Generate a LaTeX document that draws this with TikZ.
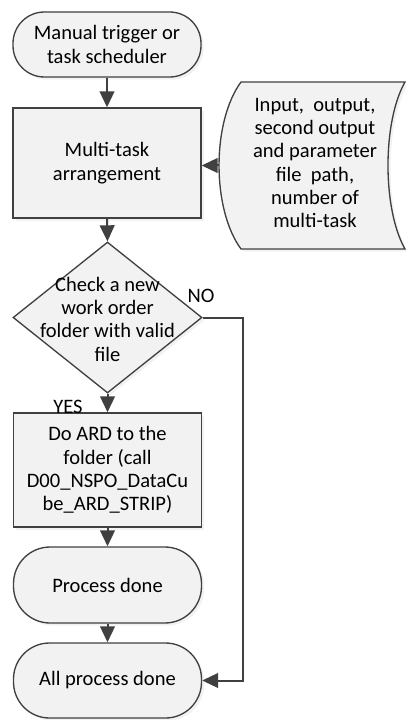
\documentclass[tikz,border=0pt]{standalone}
\usepackage{fontspec}
\setmainfont{Carlito}
\usetikzlibrary{arrows.meta,shapes.geometric,shadows}
\definecolor{boxfill}{HTML}{F2F2F2}
\definecolor{edge}{HTML}{404040}
\begin{document}
\begin{tikzpicture}[x=0.75pt,y=-0.75pt,
  txt/.style={font=\fontsize{15.4}{17.5}\selectfont, text=black, align=center},
  shp/.style={draw=edge, line width=1pt, fill=boxfill,
    drop shadow={shadow xshift=2pt,shadow yshift=-2pt,opacity=0.1}},
  term/.style={shp, txt, rectangle, minimum width=141pt, inner sep=0pt},
  proc/.style={shp, txt, rectangle, minimum width=141pt, inner sep=0pt},
  conn/.style={draw=edge, line width=1.5pt, -{Triangle[length=12pt,width=11pt]}},
  lbl/.style={txt}
]
\useasboundingbox (0,0) rectangle (406,720);

% nodes
\node[term, minimum height=48.75pt, rounded corners=23.5pt] (start) at (107,44.5)
  {Manual trigger or\\task scheduler};
\node[proc, minimum height=82.5pt] (multi) at (107,163) {Multi-task\\arrangement};
\node[shp, diamond, minimum width=141.75pt, minimum height=113.25pt, inner sep=0pt] (check) at (107.5,317.5) {};
\node[txt] (checktxt) at (107.5,319) {Check a new\\work order\\folder with valid\\file};
\node[proc, minimum height=85.5pt] (ard) at (107.5,470)
  {Do ARD to the\\folder (call\\D00\_NSPO\_DataCu\\be\_ARD\_STRIP)};
\node[term, minimum height=57pt, rounded corners=27.5pt] (pdone) at (107.5,585) {Process done};
\node[term, minimum height=56.25pt, rounded corners=27pt] (alldone) at (107.5,680.5) {All process done};

% stored data shape
\coordinate (dtl) at (241,82);
\coordinate (dtr) at (405,82);
\coordinate (dbr) at (405,249);
\coordinate (dbl) at (241,249);
\coordinate (dleft) at (219,165.5);
\path[shp] (dtl) -- (dtr) .. controls (382.3,122) and (382.3,209) .. (dbr)
  -- (dbl) .. controls (211.7,209) and (211.7,122) .. (dtl) -- cycle;
\node[txt] (datatxt) at (315,163)
  {Input,\ \ output,\\second output\\and parameter\\file\ \ path,\\number of\\multi-task};

% connectors
\coordinate (nocol) at (243,0);
\draw[conn] (start.south) -- (multi.north);
\draw[conn] (dleft) -- (dleft -| multi.east);
\draw[conn] (multi.south) -- (check.north);
\draw[conn] (check.south) -- (ard.north);
\draw[conn] (ard.south) -- (pdone.north);
\draw[conn] (pdone.south) -- (alldone.north);
\draw[conn] (check.east) -- (check.east -| nocol) |- (alldone.east);

% labels
\node[lbl] (nolbl) at (201,296) {NO};
\node[lbl] (yeslbl) at (68,407) {YES};
\end{tikzpicture}
\end{document}
